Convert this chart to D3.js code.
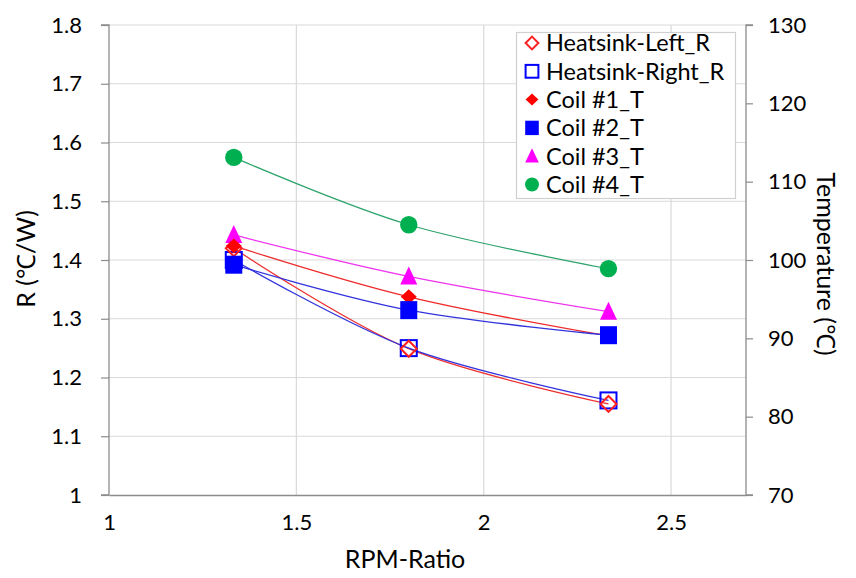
<!DOCTYPE html>
<html><head><meta charset="utf-8">
<script src="https://cdn.jsdelivr.net/npm/d3@7/dist/d3.min.js"></script>
<style>body{margin:0;background:#fff;} text{font-family:Lato,"Open Sans",sans-serif;fill:#000;}</style>
</head><body><svg id="c" width="856" height="578"></svg>
<script>
const rpm = [1.333, 1.8, 2.333];
const heatsinkLeftR = [1.42, 1.249, 1.155];
const heatsinkRightR = [1.40, 1.25, 1.161];
const coil1T = [101.8, 95.3, 90.3];
const coil2T = [99.4, 93.6, 90.4];
const coil3T = [103.2, 97.9, 93.4];
const coil4T = [113.1, 104.5, 98.9];
const xTicks = [1, 1.5, 2, 2.5];
const rTicks = [1, 1.1, 1.2, 1.3, 1.4, 1.5, 1.6, 1.7, 1.8];
const tTicks = [70, 80, 90, 100, 110, 120, 130];
const seriesNames = ["Heatsink-Left_R","Heatsink-Right_R","Coil #1_T","Coil #2_T","Coil #3_T","Coil #4_T"];

const svg = d3.select("#c");
const L = 109, R = 746, T = 25, B = 495;
const x = d3.scaleLinear().domain([1, 2.7]).range([L, R]);
const yR = d3.scaleLinear().domain([1, 1.8]).range([B, T]);
const yT = d3.scaleLinear().domain([70, 130]).range([B, T]);

// gridlines
const g = svg.append("g");
g.selectAll(".hg").data(rTicks.slice(1)).enter().append("line")
  .attr("x1", L).attr("x2", R).attr("y1", d => yR(d)).attr("y2", d => yR(d))
  .attr("stroke", "#d9d9d9").attr("stroke-width", 1.2);
g.selectAll(".vg").data(xTicks.slice(1)).enter().append("line")
  .attr("y1", T).attr("y2", B).attr("x1", d => x(d)).attr("x2", d => x(d))
  .attr("stroke", "#d9d9d9").attr("stroke-width", 1.2);

// axes
const axL = d3.axisLeft(yR).tickValues(rTicks).tickFormat(d => d === 1 ? "1" : d3.format(".1f")(d)).tickSize(8).tickPadding(19);
const axR = d3.axisRight(yT).tickValues(tTicks).tickSize(7).tickPadding(15);
const axB = d3.axisBottom(x).tickValues(xTicks).tickFormat(d => String(d)).tickSize(0).tickPadding(19);
function style(sel){
  sel.select(".domain").attr("stroke", "#8c8c8c").attr("stroke-width", 1.3);
  sel.selectAll(".tick line").attr("stroke", "#8c8c8c").attr("stroke-width", 1.2);
  sel.selectAll("text").style("font-size", "22px").attr("fill", "#000");
}
svg.append("g").attr("transform", `translate(${L},0)`).call(axL).call(style).call(s => s.select(".domain").attr("d", `M-8,${B}H0V${T}H-8`));
svg.append("g").attr("transform", `translate(${R},0)`).call(axR).call(style).call(s => s.select(".domain").attr("d", `M7,${T}H0V${B}H7`));
svg.append("g").attr("transform", `translate(0,${B})`).call(axB).call(style);

// axis titles
svg.append("text").attr("x", 405).attr("y", 568).attr("text-anchor", "middle").style("font-size", "25px").text("RPM-Ratio");
svg.append("text").attr("transform", "translate(35,259) rotate(-90)").attr("text-anchor", "middle").style("font-size", "25px").text("R (℃/W)");
svg.append("text").attr("transform", "translate(817,264) rotate(90)").attr("text-anchor", "middle").style("font-size", "25px").text("Temperature (℃)");

const line = d3.line().curve(d3.curveCardinal.tension(0));
const series = [
  {name: seriesNames[0], vals: heatsinkLeftR, y: yR, color: "#ff2020", lc: "#ee3030", sym: "diamondO"},
  {name: seriesNames[1], vals: heatsinkRightR, y: yR, color: "#0000ff", lc: "#3333dd", sym: "squareO"},
  {name: seriesNames[2], vals: coil1T, y: yT, color: "#ff0000", lc: "#ee2a2a", sym: "diamond"},
  {name: seriesNames[3], vals: coil2T, y: yT, color: "#0000ff", lc: "#3333dd", sym: "square"},
  {name: seriesNames[4], vals: coil3T, y: yT, color: "#ff00ff", lc: "#ee33ee", sym: "triangle"},
  {name: seriesNames[5], vals: coil4T, y: yT, color: "#00b050", lc: "#2ea46c", sym: "circle"}
];
series.forEach(s => {
  svg.append("path").attr("d", line(rpm.map((r, i) => [x(r), s.y(s.vals[i])])))
    .attr("fill", "none").attr("stroke", s.lc).attr("stroke-width", 1.3);
});
function marker(sel, sym, color, cx, cy, scale){
  const k = scale || 1;
  if (sym === "circle") sel.append("circle").attr("cx", cx).attr("cy", cy).attr("r", 8.7*k).attr("fill", color);
  else if (sym === "square") sel.append("rect").attr("x", cx-8.5*k).attr("y", cy-9*k).attr("width", 17*k).attr("height", 18*k).attr("fill", color);
  else if (sym === "squareO") sel.append("rect").attr("x", cx-8*k).attr("y", cy-8*k).attr("width", 16*k).attr("height", 16*k).attr("fill", "none").attr("stroke", color).attr("stroke-width", 2);
  else if (sym === "diamond") sel.append("path").attr("d", `M${cx},${cy-7.5*k}L${cx+8*k},${cy}L${cx},${cy+7.5*k}L${cx-8*k},${cy}Z`).attr("fill", color);
  else if (sym === "diamondO") sel.append("path").attr("d", `M${cx},${cy-8*k}L${cx+8*k},${cy}L${cx},${cy+8*k}L${cx-8*k},${cy}Z`).attr("fill", "none").attr("stroke", color).attr("stroke-width", 2);
  else if (sym === "triangle") sel.append("path").attr("d", `M${cx},${cy-10*k}L${cx+8.5*k},${cy+8*k}L${cx-8.5*k},${cy+8*k}Z`).attr("fill", color);
}
const mg = svg.append("g");
[1, 0, 4, 2, 3, 5].forEach(idx => {
  const s = series[idx];
  rpm.forEach((r, i) => marker(mg, s.sym, s.color, x(r), s.y(s.vals[i])));
});

// legend
const lg = svg.append("g");
lg.append("rect").attr("x", 516.5).attr("y", 32.5).attr("width", 219).attr("height", 166)
  .attr("fill", "#fff").attr("stroke", "#d0d0d0").attr("stroke-width", 1.2);
series.forEach((s, i) => {
  const cy = 43 + i*28.3;
  marker(lg, s.sym, s.color, 532, cy, 0.8);
  lg.append("text").attr("x", 546).attr("y", cy + 8.3).style("font-size", "23.5px").text(s.name);
});
</script></body></html>
